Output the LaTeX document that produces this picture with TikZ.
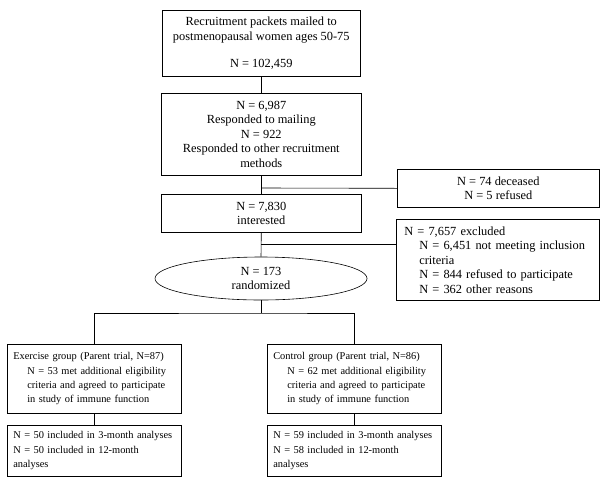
\documentclass[tikz,border=0pt]{standalone}
\usepackage{fontspec}
\setmainfont{Liberation Serif}
\usetikzlibrary{shapes.geometric}
\begin{document}
\begin{tikzpicture}[x=1pt,y=-1pt,
  txt/.style={font=\fontsize{12.4}{14.5}\selectfont},
  stxt/.style={font=\fontsize{10.4}{14.3}\selectfont},
  box/.style={draw, line width=0.6pt, rectangle, anchor=north west, inner sep=0pt, txt, align=center},
  lbox/.style={draw, line width=0.6pt, rectangle, anchor=north west, inner ysep=0pt, txt, align=left},
  gbox/.style={lbox, stxt, text width=166pt, inner xsep=4pt},
  ln/.style={draw, line width=0.6pt}]
\useasboundingbox (0,0) rectangle (609,485);
\node[box, minimum width=198pt, minimum height=66pt] (b1) at (162,10) {Recruitment packets mailed to\\postmenopausal women ages 50-75\\[13pt]N = 102,459};
\node[box, minimum width=200pt, minimum height=82pt] (b2) at (161,93) {N = 6,987\\Responded to mailing\\N = 922\\Responded to other recruitment\\methods};
\node[box, minimum width=200pt, minimum height=38pt] (b3) at (161,194) {N = 7,830\\interested};
\node[box, minimum width=202pt, minimum height=38pt] (d) at (397,169) {N = 74 deceased\\N = 5 refused};
\node[lbox, text width=187pt, inner xsep=8pt, minimum height=81pt] (ex) at (396,219) {N = 7,657 excluded\\\hspace*{15pt}N = 6,451 not meeting inclusion\\\hspace*{15pt}criteria\\\hspace*{15pt}N = 844 refused to participate\\\hspace*{15pt}N = 362 other reasons};
\node[draw, line width=0.6pt, ellipse, minimum width=212pt, minimum height=43pt, inner sep=0pt, txt, align=center] (el) at (261,278.5) {N = 173\\randomized};
\node[gbox, minimum height=69pt] (g1) at (7,344) {\hspace*{2pt}\mbox{Exercise group (Parent trial, N=87)}\\\hspace*{16pt}\mbox{N = 53 met additional eligibility}\\\hspace*{16pt}\mbox{criteria and agreed to participate}\\\hspace*{16pt}\mbox{in study of immune function}};
\node[gbox, minimum height=69pt] (g2) at (267,344) {\hspace*{2pt}\mbox{Control group (Parent trial, N=86)}\\\hspace*{16pt}\mbox{N = 62 met additional eligibility}\\\hspace*{16pt}\mbox{criteria and agreed to participate}\\\hspace*{16pt}\mbox{in study of immune function}};
\node[gbox, minimum height=51pt] (h1) at (7,425) {\hspace*{2pt}\mbox{N = 50 included in 3-month analyses}\\\hspace*{2pt}\mbox{N = 50 included in 12-month}\\\hspace*{2pt}analyses};
\node[gbox, minimum height=51pt] (h2) at (267,425) {\hspace*{2pt}\mbox{N = 59 included in 3-month analyses}\\\hspace*{2pt}\mbox{N = 58 included in 12-month}\\\hspace*{2pt}analyses};
\coordinate (j1) at (261,188);
\coordinate (j2) at (261,244);
\coordinate (j3) at (261,313);
\draw[ln] (b1.south) -- (b2.north);
\draw[ln] (b2.south) -- (b3.north);
\draw[ln] (j1) -- (d.west);
\draw[ln] (b3.south) -- (el.north);
\draw[ln] (j2) -- (j2 -| ex.west);
\draw[ln] (el.south) -- (j3);
\draw[ln] (g1.north) |- (j3) -| (g2.north);
\draw[ln] (g1.south) -- (h1.north);
\draw[ln] (g2.south) -- (h2.north);
\end{tikzpicture}
\end{document}
